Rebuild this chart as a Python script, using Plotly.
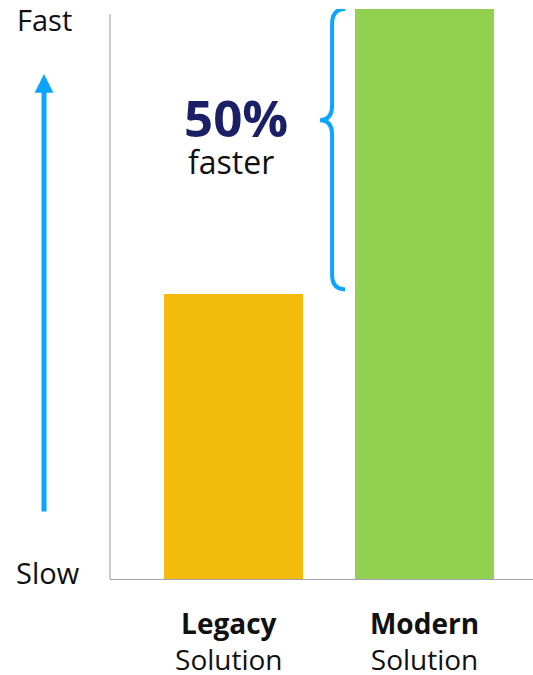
import plotly.graph_objects as go

# Chart data
categories = ["Legacy", "Modern"]
tick_labels = ["<b>Legacy</b><br>Solution", "<b>Modern</b><br>Solution"]
speed = [50, 100]
bar_colors = ["#F3BC0C", "#92D050"]
callout_value = "50%"
callout_text = "faster"

FONT = "Open Sans"
BLUE = "#0AA5FF"
NAVY = "#1B1F66"
AXIS = "#A4A2B6"

fig = go.Figure()
fig.add_trace(go.Bar(
    x=[0, 1],
    y=speed,
    width=0.728,
    marker=dict(color=bar_colors, line=dict(width=0)),
    hoverinfo="skip",
))

# Curly brace spanning the gap between the two bar tops
top = speed[1]
bot = speed[0] + 0.8
tip_y = 80.5
xv, xt, xe = 0.516, 0.453, 0.584
dy = 2.6
brace = (
    f"M {xe},{top} Q {xv},{top} {xv},{top - dy} "
    f"L {xv},{tip_y + dy} Q {xv},{tip_y} {xt},{tip_y} "
    f"Q {xv},{tip_y} {xv},{tip_y - dy} "
    f"L {xv},{bot + dy} Q {xv},{bot} {xe},{bot}"
)
fig.add_shape(type="path", path=brace, xref="x", yref="y",
              line=dict(color=BLUE, width=4))

# Vertical axis line (slightly shorter than the plot area)
fig.add_shape(type="line", xref="paper", yref="paper", x0=0, x1=0, y0=0, y1=0.991,
              line=dict(color=AXIS, width=1.2), layer="below")

# Upward speed arrow
fig.add_annotation(xref="paper", yref="paper", x=-0.156, y=0.886,
                   ax=0, ay=439, axref="pixel", ayref="pixel",
                   text="", showarrow=True, arrowhead=2, arrowsize=0.75,
                   arrowwidth=5, arrowcolor=BLUE)

fig.add_annotation(xref="paper", yref="paper", x=-0.156, y=(579 - 20) / 570,
                   xanchor="center", yanchor="middle",
                   text="Fast", showarrow=False,
                   font=dict(family=FONT, size=29, color="#111111"))
fig.add_annotation(xref="paper", yref="paper", x=-0.146, y=(579 - 572) / 570,
                   xanchor="center", yanchor="middle", text="Slow", showarrow=False,
                   font=dict(family=FONT, size=29, color="#111111"))

fig.add_annotation(xref="x", yref="y", x=0.013, y=81.0, xanchor="center", yanchor="middle",
                   text=f"<b>{callout_value}</b>", showarrow=False,
                   font=dict(family=FONT, size=51, color=NAVY))
fig.add_annotation(xref="x", yref="y", x=-0.013, y=73.2, xanchor="center", yanchor="middle",
                   text=callout_text, showarrow=False,
                   font=dict(family=FONT, size=32, color="#111111"))

fig.update_layout(
    width=533, height=675,
    margin=dict(l=110, r=0, t=9, b=96, autoexpand=False),
    paper_bgcolor="white", plot_bgcolor="white",
    showlegend=False,
    bargap=0,
    font=dict(family=FONT, color="#111111"),
    xaxis=dict(
        range=[-0.647, 1.568],
        tickvals=[-0.025, 1], ticktext=tick_labels,
        tickfont=dict(family=FONT, size=28, color="#111111"),
        showline=True, linecolor=AXIS, linewidth=1.2,
        showgrid=False, zeroline=False, ticks="",
        layer="below traces", fixedrange=True,
        automargin=False,
        ticklabelstandoff=20,
    ),
    yaxis=dict(
        range=[0, 100],
        showticklabels=False, showgrid=False, zeroline=False,
        showline=False, fixedrange=True, automargin=False,
    ),
)

fig.write_html("out.html")
